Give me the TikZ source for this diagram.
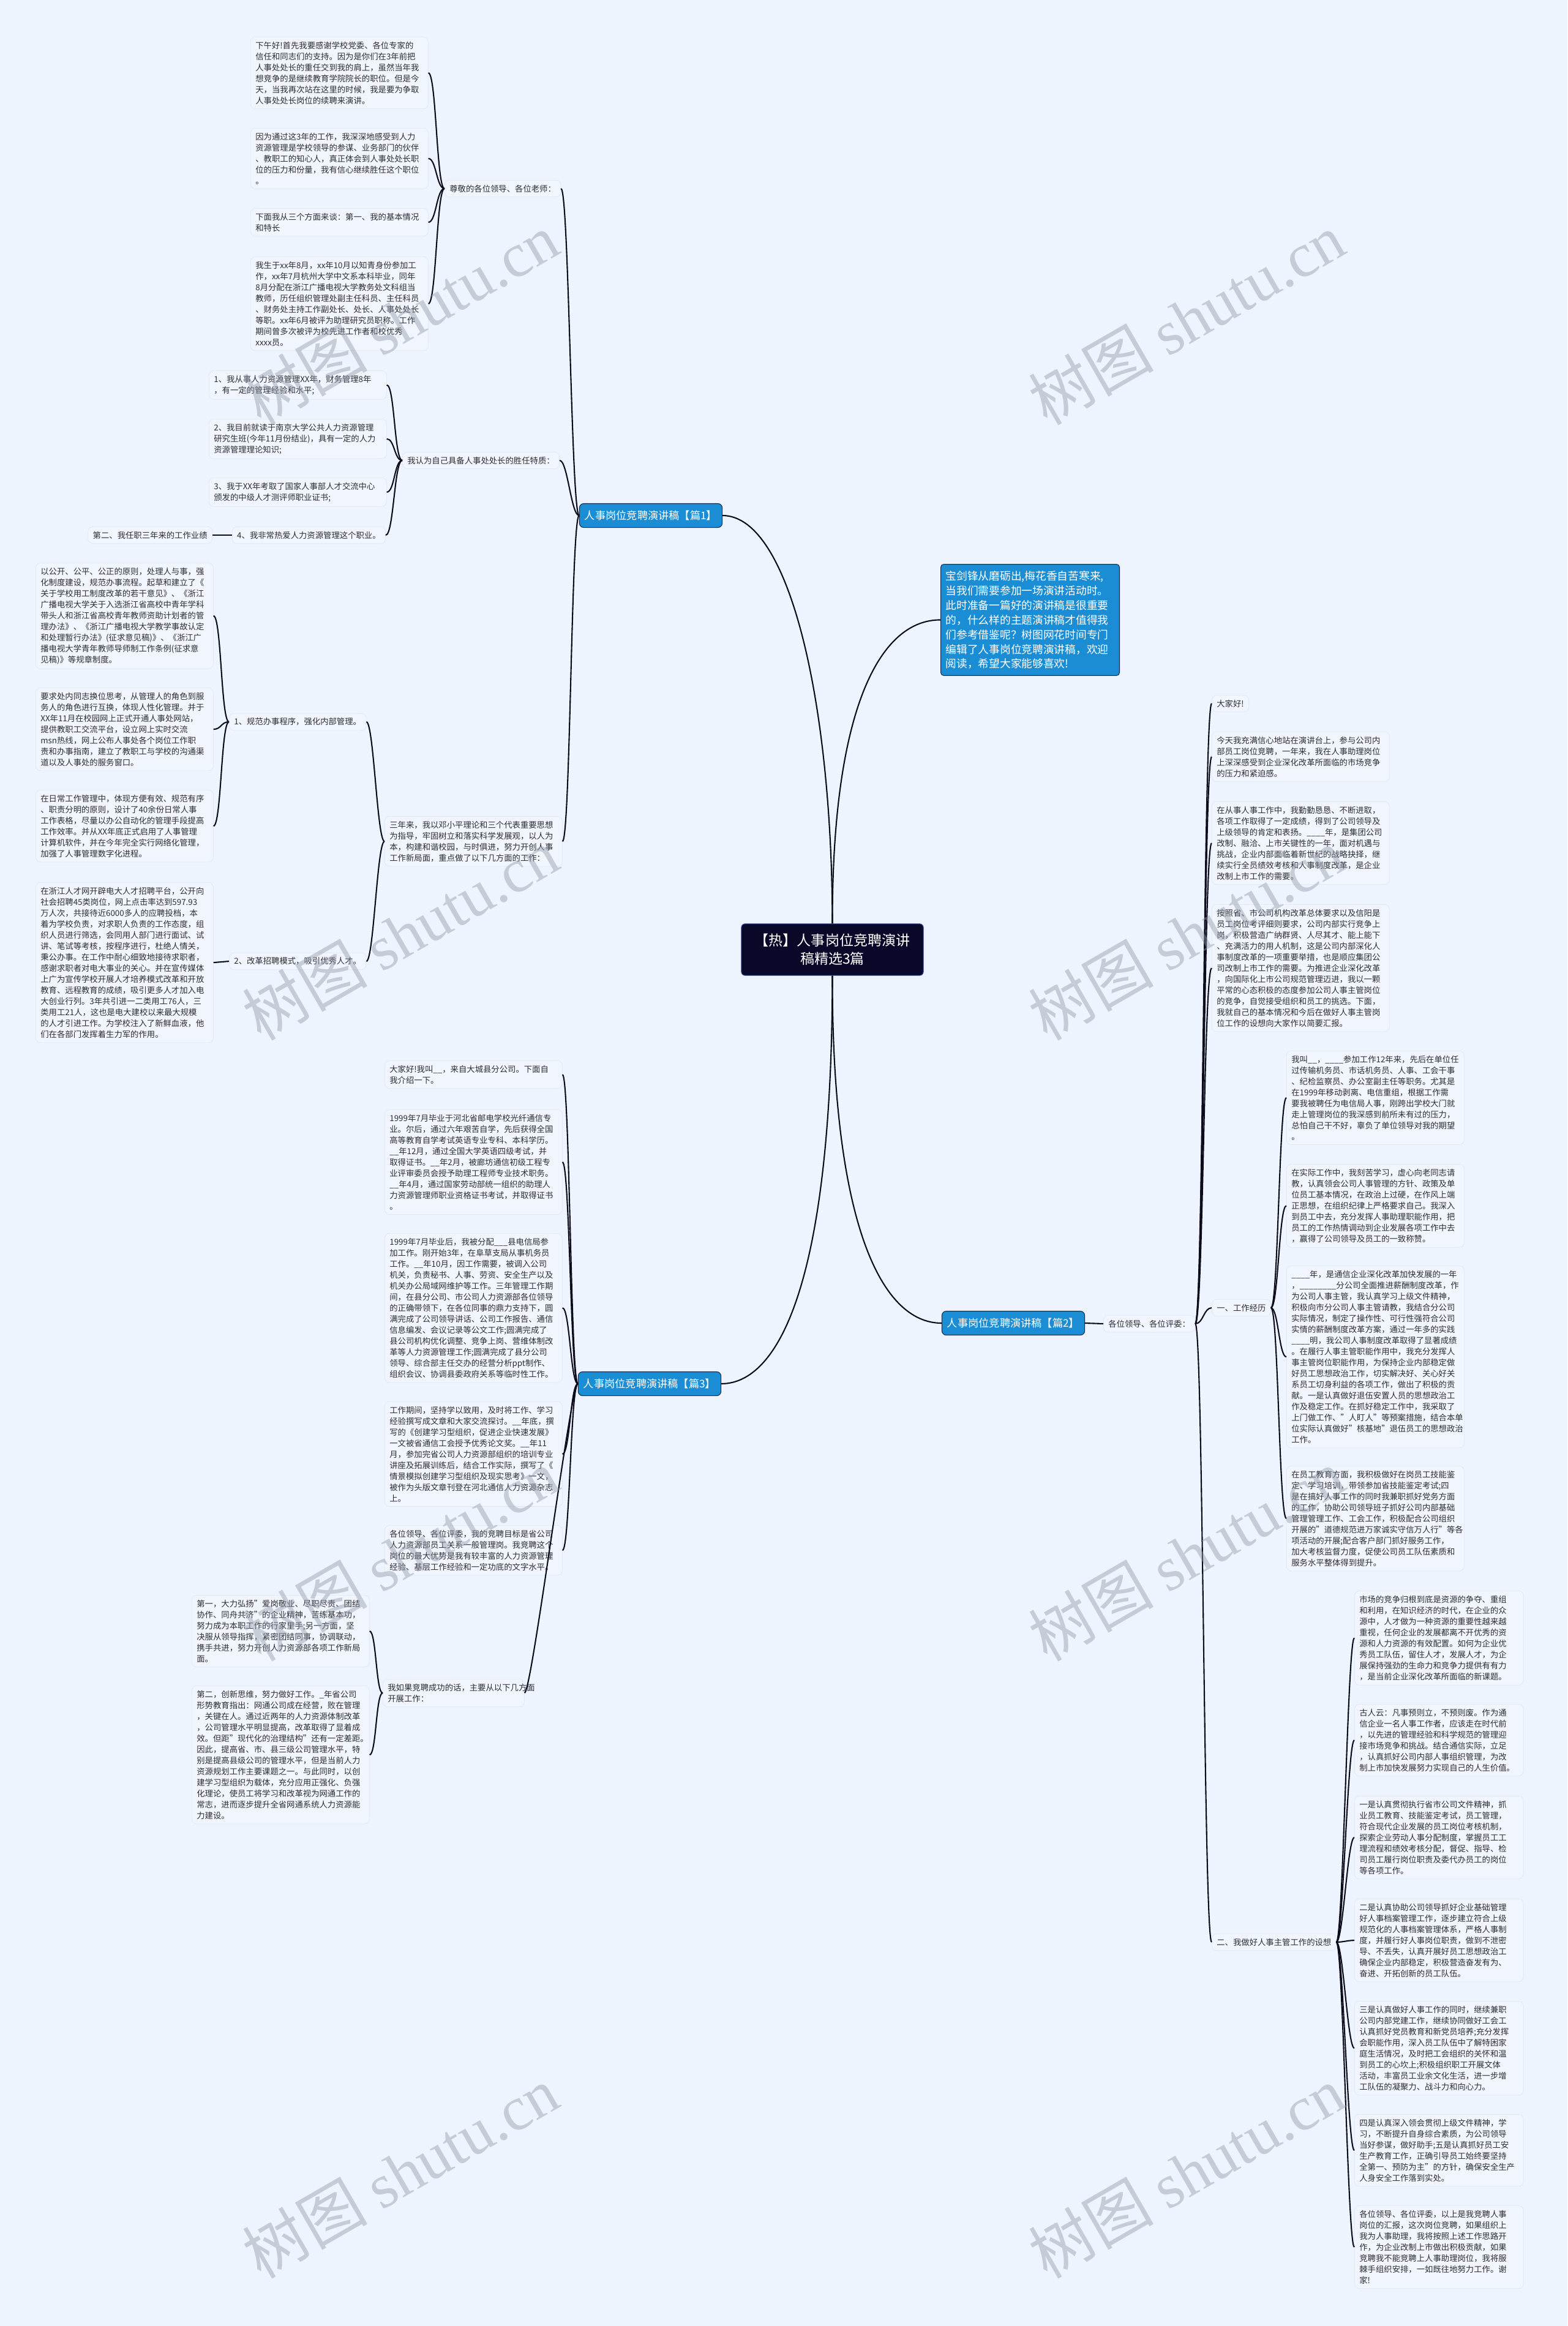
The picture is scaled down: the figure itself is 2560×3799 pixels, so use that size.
\documentclass[tikz,border=0pt]{standalone}
\usepackage{fontspec}
\setmainfont{Noto Sans CJK SC}
\newfontfamily\markserif{Liberation Serif}
\definecolor{pagebg}{RGB}{238,244,254}
\definecolor{boxfill}{RGB}{241,246,254}
\definecolor{boxline}{RGB}{222,230,245}
\definecolor{leaftext}{RGB}{45,45,52}
\definecolor{branchblue}{RGB}{27,141,212}
\definecolor{branchedge}{RGB}{22,44,78}
\definecolor{rootnavy}{RGB}{10,8,40}
\definecolor{rootedge}{RGB}{45,70,150}
\definecolor{wirecol}{RGB}{12,12,28}
\definecolor{stampgray}{RGB}{150,156,168}
\newcommand\leafsize{\fontsize{7.6pt}{10.25pt}\selectfont}
\newcommand\branchsize{\fontsize{9.8pt}{12pt}\selectfont}
\newcommand\rootsize{\fontsize{13.1pt}{17pt}\selectfont}
\newcommand\introsize{\fontsize{10.1pt}{13.65pt}\selectfont}
\begin{document}
\begin{tikzpicture}[x=0.02cm,y=-0.02cm,
  leaf/.style={draw=boxline,fill=boxfill,rounded corners=0.16cm,text=leaftext,font=\leafsize,
    align=left,text width=5.48cm,inner xsep=0.16cm,inner ysep=0.15cm,anchor=north west},
  topic/.style={draw=boxline,fill=boxfill,rounded corners=0.16cm,text=leaftext,font=\leafsize,
    inner xsep=0.16cm,inner ysep=0.15cm},
  branchbox/.style={fill=branchblue,draw=branchedge,line width=0.6pt,rounded corners=0.14cm,
    text=white,font=\branchsize,inner xsep=0.17cm,inner ysep=0.23cm},
  rootbox/.style={fill=rootnavy,draw=rootedge,line width=0.6pt,rounded corners=0.12cm,
    text=white,font=\rootsize,align=center,inner xsep=0.44cm,inner ysep=0.33cm},
  intro/.style={fill=branchblue,draw=branchedge,line width=0.6pt,rounded corners=0.1cm,
    text=white,font=\introsize,align=left,text width=5.52cm,inner xsep=0.16cm,inner ysep=0.21cm,
    anchor=north west},
  wire/.style={draw=wirecol,line width=1.2pt},
  stamp/.style={text=stampgray,opacity=0.45,rotate=30,font=\fontsize{58pt}{58pt}\selectfont}]
\path[use as bounding box,fill=pagebg] (0,0) rectangle (2560,3799);

% centre and main branches
\node[rootbox] (root) at (1359.5,1551) {【热】人事岗位竞聘演讲\\稿精选3篇};
\node[intro] (intro) at (1536,921) {宝剑锋从磨砺出,梅花香自苦寒来,\\当我们需要参加一场演讲活动时。\\此时准备一篇好的演讲稿是很重要\\的，什么样的主题演讲稿才值得我\\们参考借鉴呢？树图网花时间专门\\编辑了人事岗位竞聘演讲稿，欢迎\\阅读，希望大家能够喜欢!};
\node[branchbox] (b1) at (1063,842) {人事岗位竞聘演讲稿【篇1】};
\node[branchbox] (b2) at (1655,2161) {人事岗位竞聘演讲稿【篇2】};
\node[branchbox] (b3) at (1061,2260) {人事岗位竞聘演讲稿【篇3】};

% 篇1
\node[topic,anchor=west] (greet) at (726,308) {尊敬的各位领导、各位老师：};
\node[topic,anchor=west] (trait) at (657,752) {我认为自己具备人事处处长的胜任特质：};
\node[leaf] (three) at (628,1333) {三年来，我以邓小平理论和三个代表重要思想\\为指导，牢固树立和落实科学发展观，以人为\\本，构建和谐校园，与时俱进，努力开创人事\\工作新局面，重点做了以下几方面的工作：};

\node[leaf] (t1) at (409,60) {下午好!首先我要感谢学校党委、各位专家的\\信任和同志们的支持。因为是你们在3年前把\\人事处处长的重任交到我的肩上，虽然当年我\\想竞争的是继续教育学院院长的职位。但是今\\天，当我再次站在这里的时候，我是要为争取\\人事处处长岗位的续聘来演讲。};
\node[leaf] (t2) at (409,209) {因为通过这3年的工作，我深深地感受到人力\\资源管理是学校领导的参谋、业务部门的伙伴\\、教职工的知心人，真正体会到人事处处长职\\位的压力和份量，我有信心继续胜任这个职位\\。};
\node[leaf] (t3) at (409,340) {下面我从三个方面来谈：第一、我的基本情况\\和特长};
\node[leaf] (t4) at (409,419) {我生于xx年8月，xx年10月以知青身份参加工\\作，xx年7月杭州大学中文系本科毕业，同年\\8月分配在浙江广播电视大学教务处文科组当\\教师，历任组织管理处副主任科员、主任科员\\、财务处主持工作副处长、处长、人事处处长\\等职。xx年6月被评为助理研究员职称。工作\\期间曾多次被评为校先进工作者和校优秀\\xxxx员。};

\node[leaf] (q1) at (341,605) {1、我从事人力资源管理XX年，财务管理8年\\，有一定的管理经验和水平;};
\node[leaf] (q2) at (341,684) {2、我目前就读于南京大学公共人力资源管理\\研究生班(今年11月份结业)，具有一定的人力\\资源管理理论知识;};
\node[leaf] (q3) at (341,780) {3、我于XX年考取了国家人事部人才交流中心\\颁发的中级人才测评师职业证书;};
\node[topic,anchor=east] (q4) at (630,874) {4、我非常热爱人力资源管理这个职业。};
\node[topic,anchor=east] (merit) at (347,874) {第二、我任职三年来的工作业绩};

\node[topic,anchor=west] (rule) at (374,1179) {1、规范办事程序，强化内部管理。};
\node[topic,anchor=west] (hire) at (374,1570) {2、改革招聘模式，吸引优秀人才。};
\node[leaf] (p1) at (58,919) {以公开、公平、公正的原则，处理人与事，强\\化制度建设，规范办事流程。起草和建立了《\\关于学校用工制度改革的若干意见》、《浙江\\广播电视大学关于入选浙江省高校中青年学科\\带头人和浙江省高校青年教师资助计划者的管\\理办法》、《浙江广播电视大学教学事故认定\\和处理暂行办法》(征求意见稿)》、《浙江广\\播电视大学青年教师导师制工作条例(征求意\\见稿)》等规章制度。};
\node[leaf] (p2) at (58,1123) {要求处内同志换位思考，从管理人的角色到服\\务人的角色进行互换，体现人性化管理。并于\\XX年11月在校园网上正式开通人事处网站，\\提供教职工交流平台，设立网上实时交流\\msn热线，网上公布人事处各个岗位工作职\\责和办事指南，建立了教职工与学校的沟通渠\\道以及人事处的服务窗口。};
\node[leaf] (p3) at (58,1290) {在日常工作管理中，体现方便有效、规范有序\\、职责分明的原则，设计了40余份日常人事\\工作表格，尽量以办公自动化的管理手段提高\\工作效率。并从XX年底正式启用了人事管理\\计算机软件，并在今年完全实行网络化管理，\\加强了人事管理数字化进程。};
\node[leaf] (p4) at (58,1441) {在浙江人才网开辟电大人才招聘平台，公开向\\社会招聘45类岗位，网上点击率达到597.93\\万人次，共接待近6000多人的应聘投档，本\\着为学校负责，对求职人负责的工作态度，组\\织人员进行筛选，会同用人部门进行面试、试\\讲、笔试等考核，按程序进行，杜绝人情关，\\秉公办事。在工作中耐心细致地接待求职者，\\感谢求职者对电大事业的关心。并在宣传媒体\\上广为宣传学校开展人才培养模式改革和开放\\教育、远程教育的成绩，吸引更多人才加入电\\大创业行列。3年共引进一二类用工76人，三\\类用工21人，这也是电大建校以来最大规模\\的人才引进工作。为学校注入了新鲜血液，他\\们在各部门发挥着生力军的作用。};

% 篇3
\node[leaf] (c1) at (628,1732) {大家好!我叫\_\_，来自大城县分公司。下面自\\我介绍一下。};
\node[leaf] (c2) at (628,1812) {1999年7月毕业于河北省邮电学校光纤通信专\\业。尔后，通过六年艰苦自学，先后获得全国\\高等教育自学考试英语专业专科、本科学历。\\\_\_年12月，通过全国大学英语四级考试，并\\取得证书。\_\_年2月，被廊坊通信初级工程专\\业评审委员会授予助理工程师专业技术职务。\\\_\_年4月，通过国家劳动部统一组织的助理人\\力资源管理师职业资格证书考试，并取得证书\\。};
\node[leaf] (c3) at (628,2014) {1999年7月毕业后，我被分配\_\_\_县电信局参\\加工作。刚开始3年，在阜草支局从事机务员\\工作。\_\_年10月，因工作需要，被调入公司\\机关，负责秘书、人事、劳资、安全生产以及\\机关办公局域网维护等工作。三年管理工作期\\间，在县分公司、市公司人力资源部各位领导\\的正确带领下，在各位同事的鼎力支持下，圆\\满完成了公司领导讲话、公司工作报告、通信\\信息编发、会议记录等公文工作;圆满完成了\\县公司机构优化调整、竞争上岗、营维体制改\\革等人力资源管理工作;圆满完成了县分公司\\领导、综合部主任交办的经营分析ppt制作、\\组织会议、协调县委政府关系等临时性工作。};
\node[leaf] (c4) at (628,2289) {工作期间，坚持学以致用，及时将工作、学习\\经验撰写成文章和大家交流探讨。\_\_年底，撰\\写的《创建学习型组织，促进企业快速发展》\\一文被省通信工会授予优秀论文奖。\_\_年11\\月，参加完省公司人力资源部组织的培训专业\\讲座及拓展训练后，结合工作实际，撰写了《\\情景模拟创建学习型组织及现实思考》一文，\\被作为头版文章刊登在河北通信人力资源杂志\\上。};
\node[leaf] (c5) at (628,2491) {各位领导、各位评委，我的竞聘目标是省公司\\人力资源部员工关系一般管理岗。我竞聘这个\\岗位的最大优势是我有较丰富的人力资源管理\\经验、基层工作经验和一定功底的文字水平。};
\node[leaf,text width=4.3cm] (c6) at (625,2742) {我如果竞聘成功的话，主要从以下几方面\\开展工作：};
\node[leaf] (d1) at (313,2605) {第一，大力弘扬"爱岗敬业、尽职尽责、团结\\协作、同舟共济"的企业精神，苦练基本功，\\努力成为本职工作的行家里手;另一方面，坚\\决服从领导指挥，紧密团结同事，协调联动，\\携手共进，努力开创人力资源部各项工作新局\\面。};
\node[leaf] (d2) at (313,2753) {第二，创新思维，努力做好工作。\_年省公司\\形势教育指出：网通公司成在经营，败在管理\\，关键在人。通过近两年的人力资源体制改革\\，公司管理水平明显提高，改革取得了显着成\\效。但距"现代化的治理结构"还有一定差距。\\因此，提高省、市、县三级公司管理水平，特\\别是提高县级公司的管理水平，但是当前人力\\资源规划工作主要课题之一。与此同时，以创\\建学习型组织为载体，充分应用正强化、负强\\化理论，使员工将学习和改革视为网通工作的\\常志，进而逐步提升全省网通系统人力资源能\\力建设。};

% 篇2
\node[topic,anchor=west] (judges) at (1802,2162) {各位领导、各位评委：};
\node[topic,anchor=west] (hello) at (1979,1149) {大家好!};
\node[leaf] (e2) at (1979,1195) {今天我充满信心地站在演讲台上，参与公司内\\部员工岗位竞聘，一年来，我在人事助理岗位\\上深深感受到企业深化改革所面临的市场竞争\\的压力和紧迫感。};
\node[leaf] (e3) at (1979,1309) {在从事人事工作中，我勤勤恳恳、不断进取，\\各项工作取得了一定成绩，得到了公司领导及\\上级领导的肯定和表扬。\_\_\_\_年，是集团公司\\改制、融洽、上市关键性的一年，面对机遇与\\挑战，企业内部面临着新世纪的战略抉择，继\\续实行全员绩效考核和人事制度改革，是企业\\改制上市工作的需要。};
\node[leaf] (e4) at (1979,1477) {按照省、市公司机构改革总体要求以及信阳是\\员工岗位考评细则要求，公司内部实行竞争上\\岗，积极营造广纳群贤、人尽其才、能上能下\\、充满活力的用人机制，这是公司内部深化人\\事制度改革的一项重要举措，也是顺应集团公\\司改制上市工作的需要。为推进企业深化改革\\，向国际化上市公司规范管理迈进，我以一颗\\平常的心态积极的态度参加公司人事主管岗位\\的竞争，自觉接受组织和员工的挑选。下面，\\我就自己的基本情况和今后在做好人事主管岗\\位工作的设想向大家作以简要汇报。};
\node[topic,anchor=west] (career) at (1979,2136) {一、工作经历};
\node[topic,anchor=west] (plan) at (1979,3172) {二、我做好人事主管工作的设想};

\node[leaf] (f1) at (2101,1716) {我叫\_\_，\_\_\_\_参加工作12年来，先后在单位任\\过传输机务员、市话机务员、人事、工会干事\\、纪检监察员、办公室副主任等职务。尤其是\\在1999年移动剥离、电信重组，根据工作需\\要我被聘任为电信局人事，刚跨出学校大门就\\走上管理岗位的我深感到前所未有过的压力，\\总怕自己干不好，辜负了单位领导对我的期望\\。};
\node[leaf] (f2) at (2101,1901) {在实际工作中，我刻苦学习，虚心向老同志请\\教，认真领会公司人事管理的方针、政策及单\\位员工基本情况，在政治上过硬，在作风上端\\正思想，在组织纪律上严格要求自己。我深入\\到员工中去，充分发挥人事助理职能作用，把\\员工的工作热情调动到企业发展各项工作中去\\，赢得了公司领导及员工的一致称赞。};
\node[leaf] (f3) at (2101,2067) {\_\_\_\_年，是通信企业深化改革加快发展的一年\\，\_\_\_\_\_\_\_\_分公司全面推进薪酬制度改革，作\\为公司人事主管，我认真学习上级文件精神，\\积极向市分公司人事主管请教，我结合分公司\\实际情况，制定了操作性、可行性强符合公司\\实情的薪酬制度改革方案，通过一年多的实践\\\_\_\_\_明，我公司人事制度改革取得了显著成绩\\。在履行人事主管职能作用中，我充分发挥人\\事主管岗位职能作用，为保持企业内部稳定做\\好员工思想政治工作，切实解决好、关心好关\\系员工切身利益的各项工作，做出了积极的贡\\献。一是认真做好退伍安置人员的思想政治工\\作及稳定工作。在抓好稳定工作中，我采取了\\上门做工作、"人盯人"等预案措施，结合本单\\位实际认真做好"核基地"退伍员工的思想政治\\工作。};
\node[leaf] (f4) at (2101,2394) {在员工教育方面，我积极做好在岗员工技能鉴\\定、学习培训，带领参加省技能鉴定考试;四\\是在搞好人事工作的同时我兼职抓好党务方面\\的工作，协助公司领导班子抓好公司内部基础\\管理管理工作、工会工作，积极配合公司组织\\开展的"道德规范进万家诚实守信万人行"等各\\项活动的开展;配合客户部门抓好服务工作，\\加大考核监督力度，促使公司员工队伍素质和\\服务水平整体得到提升。};

\node[leaf,text width=5.2cm] (r1) at (2212,2598) {市场的竞争归根到底是资源的争夺、重组\\和利用，在知识经济的时代，在企业的众\\源中，人才做为一种资源的重要性越来越\\重视，任何企业的发展都离不开优秀的资\\源和人力资源的有效配置。如何为企业优\\秀员工队伍，留住人才，发展人才，为企\\展保持强劲的生命力和竞争力提供有有力\\，是当前企业深化改革所面临的新课题。};
\node[leaf,text width=5.2cm] (r2) at (2212,2783) {古人云：凡事预则立，不预则废。作为通\\信企业一名人事工作者，应该走在时代前\\，以先进的管理经验和科学规范的管理迎\\接市场竞争和挑战。结合通信实际，立足\\，认真抓好公司内部人事组织管理，为改\\制上市加快发展努力实现自己的人生价值。};
\node[leaf,text width=5.2cm] (r3) at (2212,2933) {一是认真贯彻执行省市公司文件精神，抓\\业员工教育、技能鉴定考试，员工管理，\\符合现代企业发展的员工岗位考核机制，\\探索企业劳动人事分配制度，掌握员工工\\理流程和绩效考核分配，督促、指导、检\\司员工履行岗位职责及委代办员工的岗位\\等各项工作。};
\node[leaf,text width=5.2cm] (r4) at (2212,3101) {二是认真协助公司领导抓好企业基础管理\\好人事档案管理工作，逐步建立符合上级\\规范化的人事档案管理体系，严格人事制\\度，并履行好人事岗位职责，做到不泄密\\导、不丢失，认真开展好员工思想政治工\\确保企业内部稳定，积极营造奋发有为、\\奋进、开拓创新的员工队伍。};
\node[leaf,text width=5.2cm] (r5) at (2212,3268) {三是认真做好人事工作的同时，继续兼职\\公司内部党建工作，继续协同做好工会工\\认真抓好党员教育和新党员培养;充分发挥\\会职能作用，深入员工队伍中了解特困家\\庭生活情况，及时把工会组织的关怀和温\\到员工的心坎上;积极组织职工开展文体\\活动，丰富员工业余文化生活，进一步增\\工队伍的凝聚力、战斗力和向心力。};
\node[leaf,text width=5.2cm] (r6) at (2212,3453) {四是认真深入领会贯彻上级文件精神，学\\习，不断提升自身综合素质，为公司领导\\当好参谋，做好助手;五是认真抓好员工安\\生产教育工作，正确引导员工始终要坚持\\全第一、预防为主"的方针，确保安全生产\\人身安全工作落到实处。};
\node[leaf,text width=5.2cm] (r7) at (2212,3602) {各位领导、各位评委，以上是我竞聘人事\\岗位的汇报，这次岗位竞聘，如果组织上\\我为人事助理，我将按照上述工作思路开\\作，为企业改制上市做出积极贡献，如果\\竞聘我不能竞聘上人事助理岗位，我将服\\棘手组织安排，一如既往地努力工作。谢\\家!};

% connectors
\draw[wire] (root.north) .. controls (1359,1150) and (1290,842) .. (b1.east);
\draw[wire] (root.north) .. controls (1359,1150) and (1440,1012) .. (intro.west);
\draw[wire] (root.south) .. controls (1359,2000) and (1440,2161) .. (b2.west);
\draw[wire] (root.south) .. controls (1359,2100) and (1270,2260) .. (b3.east);
\foreach \kid in {greet,trait,three}
  \draw[wire] (b1.west) .. controls +(-13,0) and +(13,0) .. (\kid.east);
\foreach \kid in {t1,t2,t3,t4}
  \draw[wire] (greet.west) .. controls +(-13,0) and +(13,0) .. (\kid.east);
\foreach \kid in {q1,q2,q3,q4}
  \draw[wire] (trait.west) .. controls +(-13,0) and +(13,0) .. (\kid.east);
\draw[wire] (q4.west) -- (merit.east);
\foreach \kid in {rule,hire}
  \draw[wire] (three.west) .. controls +(-12,0) and +(12,0) .. (\kid.east);
\foreach \kid in {p1,p2,p3}
  \draw[wire] (rule.west) .. controls +(-13,0) and +(13,0) .. (\kid.east);
\draw[wire] (hire.west) -- (p4.east);
\foreach \kid in {c1,c2,c3,c4,c5,c6}
  \draw[wire] (b3.west) .. controls +(-12,0) and +(12,0) .. (\kid.east);
\foreach \kid in {d1,d2}
  \draw[wire] (c6.west) .. controls +(-11,0) and +(11,0) .. (\kid.east);
\draw[wire] (b2.east) -- (judges.west);
\foreach \kid in {hello,e2,e3,e4,career,plan}
  \draw[wire] (judges.east) .. controls +(13,0) and +(-13,0) .. (\kid.west);
\foreach \kid in {f1,f2,f3,f4}
  \draw[wire] (career.east) .. controls +(12,0) and +(-12,0) .. (\kid.west);
\foreach \kid in {r1,r2,r3,r4,r5,r6,r7}
  \draw[wire] (plan.east) .. controls +(11,0) and +(-11,0) .. (\kid.west);

% watermark
\foreach \wx in {654,1938}
  \foreach \wy in {521,1526,2540,3548}
    \node[stamp] at (\wx,\wy) {树图 {\markserif shutu.cn}};
\end{tikzpicture}
\end{document}
